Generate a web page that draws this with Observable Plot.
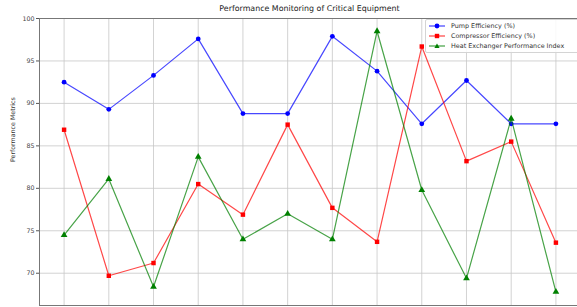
<!DOCTYPE html>
<html>
<head>
<meta charset="utf-8">
<script src="https://cdn.jsdelivr.net/npm/d3@7"></script>
<script src="https://cdn.jsdelivr.net/npm/@observablehq/plot@0.6"></script>
<style>
  html, body { margin: 0; padding: 0; background: #fff; }
  #wrap { position: relative; width: 577px; height: 307px; overflow: hidden; font-family: "DejaVu Sans", sans-serif; }
  #title { position: absolute; left: 39px; width: 541px; top: 4px; text-align: center; font-size: 7.9px; color: #222; }
  #legend { position: absolute; left: 425px; top: 19px; width: 160px; height: 32px; border: 1px solid #d4d4d4; border-radius: 2px; background: rgba(255,255,255,0.85); font-size: 6.4px; color: #333; }
  .row { position: absolute; left: 3px; height: 10px; display: flex; align-items: center; }
  .row svg { margin-right: 6px; }
</style>
</head>
<body>
<div id="wrap">
  <div id="chart"></div>
  <div id="title">Performance Monitoring of Critical Equipment</div>
  <div id="legend"></div>
</div>
<script>
const index = [0, 1, 2, 3, 4, 5, 6, 7, 8, 9, 10, 11];
const pumpEfficiency = [92.5, 89.3, 93.3, 97.6, 88.8, 88.8, 97.9, 93.8, 87.6, 92.7, 87.6, 87.6];
const compressorEfficiency = [86.9, 69.7, 71.2, 80.5, 76.9, 87.5, 77.7, 73.7, 96.7, 83.2, 85.5, 73.6];
const heatExchangerIndex = [74.5, 81.1, 68.4, 83.7, 74.0, 77.0, 74.0, 98.5, 79.8, 69.4, 88.2, 67.8];
const seriesNames = ["Pump Efficiency (%)", "Compressor Efficiency (%)", "Heat Exchanger Performance Index"];
const seriesColors = ["#0000ff", "#ff0000", "#008000"];
const seriesSymbols = ["circle", "square", "triangle"];
const yTicks = [70, 75, 80, 85, 90, 95, 100];

const seriesValues = [pumpEfficiency, compressorEfficiency, heatExchangerIndex];
const data = [];
seriesValues.forEach((vals, s) => vals.forEach((v, i) => data.push({ i: index[i], v, s: seriesNames[s] })));

const marks = [
  Plot.gridX(index, { stroke: "#c8c8c8", strokeOpacity: 1, strokeWidth: 0.8 }),
  Plot.gridY(yTicks, { stroke: "#c8c8c8", strokeOpacity: 1, strokeWidth: 0.8 }),
  Plot.axisY(yTicks, { tickSize: 3, tickPadding: 2, fontSize: 6.3, fill: "#444", stroke: "#555", label: null }),
  Plot.axisX(index, { tickSize: 0, tickFormat: () => "", label: null }),
  Plot.frame({ stroke: "#777", strokeWidth: 1 })
];
seriesNames.forEach((name, s) => {
  const d = data.filter(r => r.s === name);
  marks.push(Plot.line(d, { x: "i", y: "v", stroke: seriesColors[s], strokeWidth: 1.2, strokeOpacity: 0.72 }));
  marks.push(Plot.dot(d, { x: "i", y: "v", fill: seriesColors[s], stroke: "none", symbol: seriesSymbols[s], r: s === 0 ? 2.4 : 2.5 }));
});
marks.push(Plot.text(["Performance Metrics"], { frameAnchor: "left", dx: -27, rotate: -90, fontSize: 6.3, fill: "#333" }));

const chart = Plot.plot({
  width: 577,
  height: 307,
  marginLeft: 39,
  marginRight: -3,
  marginTop: 18,
  marginBottom: 2,
  style: { fontFamily: "DejaVu Sans, sans-serif", background: "#fff", overflow: "visible" },
  x: { domain: [-0.55, 11.55], axis: null },
  y: { domain: [66.2, 100.0], axis: null },
  marks
});
document.getElementById("chart").appendChild(chart);

const legend = document.getElementById("legend");
seriesNames.forEach((name, s) => {
  const row = document.createElement("div");
  row.className = "row";
  row.style.top = (0.5 + s * 10) + "px";
  const sym = s === 0 ? '<circle cx="8" cy="5" r="2.4" fill="' + seriesColors[s] + '"/>'
    : s === 1 ? '<rect x="5.8" y="2.8" width="4.4" height="4.4" fill="' + seriesColors[s] + '"/>'
    : '<path d="M8,2.6L10.6,7L5.4,7Z" fill="' + seriesColors[s] + '"/>';
  row.innerHTML = '<svg width="16" height="10"><line x1="0" x2="16" y1="5" y2="5" stroke="' + seriesColors[s] + '" stroke-opacity="0.75" stroke-width="1.2"/>' + sym + '</svg><span>' + name + '</span>';
  legend.appendChild(row);
});
</script>
</body>
</html>
